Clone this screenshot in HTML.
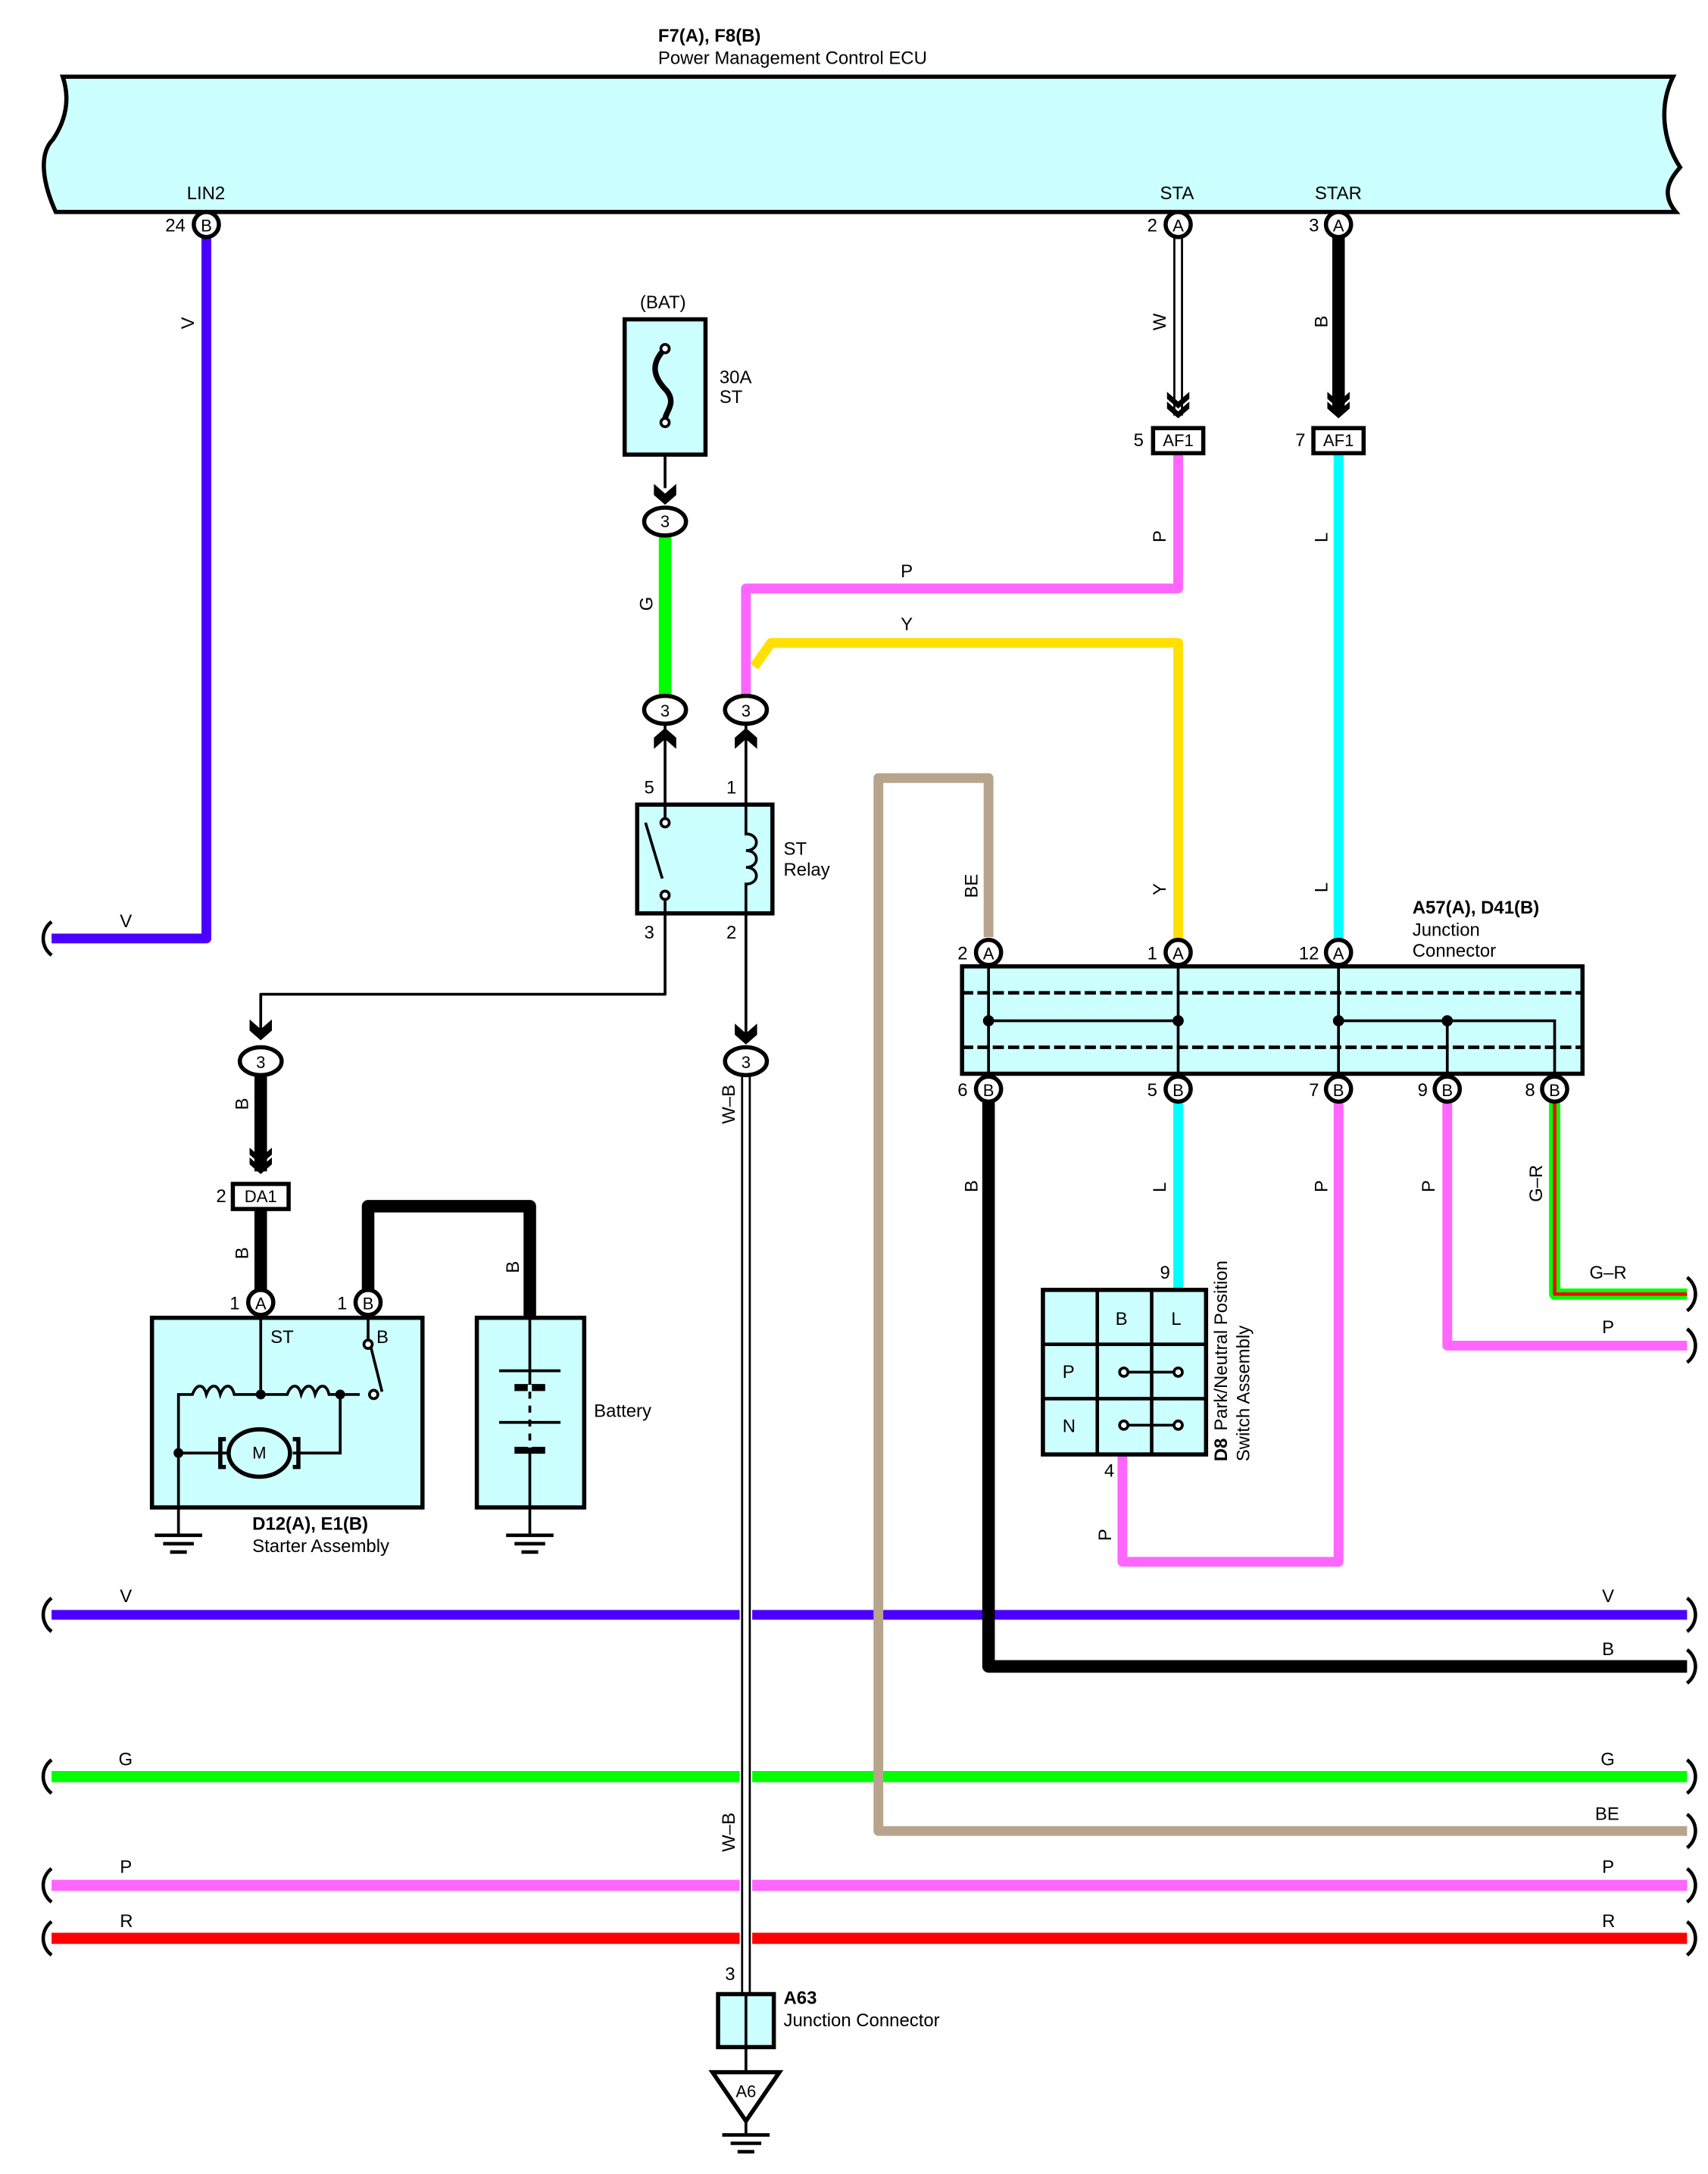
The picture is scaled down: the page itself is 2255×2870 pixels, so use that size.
<!DOCTYPE html>
<html><head><meta charset="utf-8"><style>html,body{margin:0;padding:0;background:#fff}svg{display:block}</style></head><body>
<svg width="2255" height="2870" viewBox="0 0 1225 1559" preserveAspectRatio="none" xmlns="http://www.w3.org/2000/svg" font-family="Liberation Sans, Arial, sans-serif" font-size="13">
<defs>
<g id="brk"><path d="M0,-12 C-8,-6 -8,6 0,12" fill="none" stroke="#000" stroke-width="2.5"/></g>
<g id="chev"><path d="M-8,-12 L0,-5 L8,-12 L8,-7 L0,0 L-8,-7Z M-8,-5 L0,2 L8,-5 L8,0 L0,7 L-8,0Z" fill="#000"/></g>
<g id="gnd"><path d="M-17,0 H17 M-11,6 H11 M-6,12 H6" stroke="#000" stroke-width="2.5"/></g>
</defs>
<!-- ECU -->
<path d="M45,55 H1200 C1190,75 1192,100 1205,120 C1196,130 1192,140 1202,152 H40 C30,130 28,110 38,100 C48,85 50,70 45,55Z" fill="#ccffff" stroke="#000" stroke-width="3"/>
<text x="472" y="30" font-weight="bold">F7(A), F8(B)</text>
<text x="472" y="46">Power Management Control ECU</text>
<text x="134" y="143">LIN2</text><text x="832" y="143">STA</text><text x="943" y="143">STAR</text>

<g fill="none" stroke-linejoin="round">
<path d="M148,170 V673 H37" stroke="#4b00ff" stroke-width="7"/>
<path d="M37,1158 H1210" stroke="#4b00ff" stroke-width="7"/>
<path d="M709,790 V1195 H1210" stroke="#000" stroke-width="9"/>
<path d="M37,1274 H1210" stroke="#00ff00" stroke-width="8"/>
<path d="M709,672 V558 H630 V1313 H1210" stroke="#b8a48c" stroke-width="7"/>
<path d="M37,1352 H1210" stroke="#ff66ff" stroke-width="8"/>
<path d="M37,1390 H1210" stroke="#ff0000" stroke-width="8"/>
<path d="M845,325 V422 H535 V500" stroke="#ff66ff" stroke-width="7"/>
<path d="M541,478 L553,461 H845 V675" stroke="#ffe000" stroke-width="7"/>
<path d="M960,325 V675" stroke="#00ffff" stroke-width="7"/>
<path d="M960,170 V295" stroke="#000" stroke-width="9"/>
<path d="M845,790 V925" stroke="#00ffff" stroke-width="7"/>
<path d="M960,790 V1120 H805 V1043" stroke="#ff66ff" stroke-width="7"/>
<path d="M1038,790 V965 H1210" stroke="#ff66ff" stroke-width="7"/>
<path d="M1115,790 V928 H1210" stroke="#00ff00" stroke-width="8"/>
<path d="M1115,790 V928 H1210" stroke="#ff0000" stroke-width="2.5"/>
<path d="M477,384 V500" stroke="#00ff00" stroke-width="9"/>
<path d="M187,771 V840 M187,867 V925" stroke="#000" stroke-width="9"/>
<path d="M264,943 V865 H380 V945" stroke="#000" stroke-width="9"/>
<path d="M845,170 V298" stroke="#000" stroke-width="7"/><path d="M845,170 V298" stroke="#fff" stroke-width="4"/>
<path d="M535,770 V1430" stroke="#fff" stroke-width="9"/>
<path d="M535,770 V1430" stroke="#000" stroke-width="7"/><path d="M535,770 V1430" stroke="#fff" stroke-width="4"/>
<path d="M477,326 V350 M477,520 V577 M535,520 V577 M477,655 V713 H187 V742 M535,655 V745" stroke="#000" stroke-width="2"/>
</g>
<g>
<use href="#brk" x="37" y="673"/><use href="#brk" x="37" y="1158"/><use href="#brk" x="37" y="1274"/><use href="#brk" x="37" y="1352"/><use href="#brk" x="37" y="1390"/>
</g>
<g fill="none" stroke="#000" stroke-width="2.5">
<path d="M1210,1146 C1218,1152 1218,1164 1210,1170"/><path d="M1210,1183 C1218,1189 1218,1201 1210,1207"/>
<path d="M1210,1262 C1218,1268 1218,1280 1210,1286"/><path d="M1210,1301 C1218,1307 1218,1319 1210,1325"/>
<path d="M1210,1340 C1218,1346 1218,1358 1210,1364"/><path d="M1210,1378 C1218,1384 1218,1396 1210,1402"/>
<path d="M1210,916 C1218,922 1218,934 1210,940"/><path d="M1210,953 C1218,959 1218,971 1210,977"/>
</g>
<use href="#chev" x="845" y="293"/><use href="#chev" x="960" y="293"/><use href="#chev" x="187" y="835"/>
<path d="M469,347 L477,354 L485,347 L485,355 L477,362 L469,355Z" fill="#000"/>
<path d="M187,738 l-8,-7 v8 l8,7 l8,-7 v-8z" fill="#000"/>
<path d="M535,741 l-8,-7 v8 l8,7 l8,-7 v-8z" fill="#000"/>
<path d="M477,522 l-8,7 v8 l8,-7 l8,7 v-8z" fill="#000"/>
<path d="M535,522 l-8,7 v8 l8,-7 l8,7 v-8z" fill="#000"/>
<g fill="#fff" stroke="#000" stroke-width="3">
<ellipse cx="477" cy="374" rx="15" ry="10"/><ellipse cx="477" cy="509" rx="15" ry="10"/><ellipse cx="535" cy="509" rx="15" ry="10"/>
<ellipse cx="187" cy="761" rx="15" ry="10"/><ellipse cx="535" cy="761" rx="15" ry="10"/>
</g>
<g font-size="12" text-anchor="middle"><text x="477" y="378">3</text><text x="477" y="514">3</text><text x="535" y="514">3</text><text x="187" y="766">3</text><text x="535" y="766">3</text></g>
<g fill="#fff" stroke="#000" stroke-width="3"><rect x="827" y="307" width="36" height="18"/><rect x="942" y="307" width="36" height="18"/><rect x="167" y="849" width="40" height="18"/></g>
<g font-size="12" text-anchor="middle"><text x="845" y="320">AF1</text><text x="960" y="320">AF1</text><text x="187" y="862">DA1</text></g>
<text x="813" y="320">5</text><text x="929" y="320">7</text><text x="155" y="862">2</text>
<rect x="448" y="229" width="58" height="97" fill="#ccffff" stroke="#000" stroke-width="3"/>
<path d="M477,250 C465,262 470,272 478,280 C486,290 476,296 477,302" fill="none" stroke="#000" stroke-width="4"/>
<circle cx="477" cy="250" r="3" fill="#fff" stroke="#000" stroke-width="2"/><circle cx="477" cy="303" r="3" fill="#fff" stroke="#000" stroke-width="2"/>
<text x="459" y="221">(BAT)</text><text x="516" y="275">30A</text><text x="516" y="289">ST</text>
<rect x="457" y="577" width="97" height="78" fill="#ccffff" stroke="#000" stroke-width="3"/>
<path d="M477,577 V588 M477,646 V655 M463,590 L475,630 M535,577 V598 C545,598 545,610 535,610 C545,610 545,622 535,622 C545,622 545,634 535,634 V655" fill="none" stroke="#000" stroke-width="2"/>
<circle cx="477" cy="590" r="3" fill="#fff" stroke="#000" stroke-width="2"/><circle cx="477" cy="642" r="3" fill="#fff" stroke="#000" stroke-width="2"/>
<text x="462" y="569">5</text><text x="521" y="569">1</text><text x="462" y="673">3</text><text x="521" y="673">2</text>
<text x="562" y="613">ST</text><text x="562" y="628">Relay</text>
<rect x="109" y="945" width="194" height="136" fill="#ccffff" stroke="#000" stroke-width="3"/>
<g fill="none" stroke="#000" stroke-width="2">
<path d="M187,943 V1000 M128,1100 V1000 H138 c3,-8 8,-8 10,0 c3,-8 8,-8 10,0 c3,-8 8,-8 10,0 H206 c3,-8 8,-8 10,0 c3,-8 8,-8 10,0 c3,-8 8,-8 10,0 H258 M244,1000 V1042 H210 M128,1042 H163 M264,943 V962 M266,966 L274,998"/>
<ellipse cx="186" cy="1042" rx="22" ry="17" stroke-width="3"/>
<path d="M162,1032 h-4 v20 h4 M210,1032 h4 v20 h-4" stroke-width="3"/>
</g>
<circle cx="187" cy="1000" r="3.5"/><circle cx="244" cy="1000" r="3.5"/><circle cx="128" cy="1042" r="3.5"/>
<circle cx="264" cy="964" r="3" fill="#fff" stroke="#000" stroke-width="2"/><circle cx="268" cy="1000" r="3" fill="#fff" stroke="#000" stroke-width="2"/>
<text x="186" y="1046" text-anchor="middle" font-size="12">M</text>
<text x="194" y="963">ST</text><text x="270" y="963">B</text>
<text x="181" y="1097" font-weight="bold">D12(A), E1(B)</text><text x="181" y="1113">Starter Assembly</text>
<use href="#gnd" x="128" y="1101"/>
<rect x="342" y="945" width="77" height="136" fill="#ccffff" stroke="#000" stroke-width="3"/>
<path d="M380,945 V1101 M358,983 H402 M358,1020 H402" stroke="#000" stroke-width="2"/>
<path d="M369,995 H391 M369,1040 H391" stroke="#000" stroke-width="5"/>
<path d="M380,993 V1038" stroke="#ccffff" stroke-width="3" stroke-dasharray="5,5"/>
<text x="426" y="1016">Battery</text>
<use href="#gnd" x="380" y="1101"/>
<rect x="690" y="693" width="445" height="77" fill="#ccffff" stroke="#000" stroke-width="3"/>
<path d="M690,712 H1135 M690,751 H1135" stroke="#000" stroke-width="2.5" stroke-dasharray="8,3"/>
<path d="M709,693 V770 M845,693 V770 M960,693 V770 M1038,732 V770 M709,732 H845 M960,732 H1115 V770" fill="none" stroke="#000" stroke-width="2"/>
<circle cx="709" cy="732" r="4"/><circle cx="845" cy="732" r="4"/><circle cx="960" cy="732" r="4"/><circle cx="1038" cy="732" r="4"/>
<text x="1013" y="655" font-weight="bold">A57(A), D41(B)</text><text x="1013" y="671">Junction</text><text x="1013" y="686">Connector</text>
<g fill="#ccffff" stroke="#000" stroke-width="3"><rect x="748" y="925" width="117" height="118"/></g>
<path d="M787,925 V1043 M826,925 V1043 M748,964 H865 M748,1003 H865" stroke="#000" stroke-width="2.5"/>
<path d="M806,984 H845 M806,1022 H845" stroke="#000" stroke-width="2"/>
<g fill="#fff" stroke="#000" stroke-width="2"><circle cx="806" cy="984" r="3"/><circle cx="845" cy="984" r="3"/><circle cx="806" cy="1022" r="3"/><circle cx="845" cy="1022" r="3"/></g>
<text x="800" y="950">B</text><text x="840" y="950">L</text><text x="762" y="988">P</text><text x="762" y="1027">N</text>
<text x="832" y="917">9</text><text x="792" y="1059">4</text>
<g transform="translate(880,1048) rotate(-90)"><text font-weight="bold" x="0" y="0">D8</text><text x="22" y="0">Park/Neutral Position</text><text x="0" y="16">Switch Assembly</text></g>
<rect x="515" y="1430" width="40" height="38" fill="#ccffff" stroke="#000" stroke-width="3"/>
<path d="M535,1430 V1486" stroke="#000" stroke-width="2"/>
<text x="520" y="1420">3</text>
<text x="562" y="1437" font-weight="bold">A63</text><text x="562" y="1453">Junction Connector</text>
<path d="M511,1486 H559 L535,1521Z" fill="#fff" stroke="#000" stroke-width="3"/>
<text x="535" y="1504" text-anchor="middle" font-size="12">A6</text>
<path d="M535,1521 V1530" stroke="#000" stroke-width="2"/>
<use href="#gnd" x="535" y="1531"/>
<g fill="#fff" stroke="#000" stroke-width="3">
<circle cx="148" cy="161" r="9"/><circle cx="845" cy="161" r="9"/><circle cx="960" cy="161" r="9"/>
<circle cx="709" cy="683" r="9"/><circle cx="845" cy="683" r="9"/><circle cx="960" cy="683" r="9"/>
<circle cx="709" cy="781" r="9"/><circle cx="845" cy="781" r="9"/><circle cx="960" cy="781" r="9"/><circle cx="1038" cy="781" r="9"/><circle cx="1115" cy="781" r="9"/>
<circle cx="187" cy="934" r="9"/><circle cx="264" cy="934" r="9"/>
</g>
<g font-size="12" text-anchor="middle">
<text x="148" y="166">B</text><text x="845" y="166">A</text><text x="960" y="166">A</text>
<text x="709" y="688">A</text><text x="845" y="688">A</text><text x="960" y="688">A</text>
<text x="709" y="786">B</text><text x="845" y="786">B</text><text x="960" y="786">B</text><text x="1038" y="786">B</text><text x="1115" y="786">B</text>
<text x="187" y="939">A</text><text x="264" y="939">B</text>
</g>
<g text-anchor="end">
<text x="133" y="166">24</text><text x="830" y="166">2</text><text x="946" y="166">3</text>
<text x="694" y="688">2</text><text x="830" y="688">1</text><text x="946" y="688">12</text>
<text x="694" y="786">6</text><text x="830" y="786">5</text><text x="946" y="786">7</text><text x="1024" y="786">9</text><text x="1101" y="786">8</text>
<text x="172" y="939">1</text><text x="249" y="939">1</text>
</g>
<g>
<text transform="translate(139,236) rotate(-90)">V</text>
<text transform="translate(836,237) rotate(-90)">W</text>
<text transform="translate(952,235) rotate(-90)">B</text>
<text transform="translate(836,389) rotate(-90)">P</text>
<text transform="translate(952,389) rotate(-90)">L</text>
<text transform="translate(468,438) rotate(-90)">G</text>
<text transform="translate(836,642) rotate(-90)">Y</text>
<text transform="translate(952,640) rotate(-90)">L</text>
<text transform="translate(701,644) rotate(-90)">BE</text>
<text transform="translate(178,796) rotate(-90)">B</text>
<text transform="translate(178,903) rotate(-90)">B</text>
<text transform="translate(372,913) rotate(-90)">B</text>
<text transform="translate(527,806) rotate(-90)">W–B</text>
<text transform="translate(527,1328) rotate(-90)">W–B</text>
<text transform="translate(701,855) rotate(-90)">B</text>
<text transform="translate(836,855) rotate(-90)">L</text>
<text transform="translate(952,855) rotate(-90)">P</text>
<text transform="translate(1029,855) rotate(-90)">P</text>
<text transform="translate(1106,862) rotate(-90)">G–R</text>
<text transform="translate(797,1105) rotate(-90)">P</text>
</g>
<text x="86" y="665">V</text><text x="646" y="414">P</text><text x="646" y="452">Y</text>
<text x="86" y="1149">V</text><text x="1149" y="1149">V</text>
<text x="1149" y="1187">B</text>
<text x="85" y="1266">G</text><text x="1148" y="1266">G</text>
<text x="1144" y="1305">BE</text>
<text x="86" y="1343">P</text><text x="1149" y="1343">P</text>
<text x="86" y="1382">R</text><text x="1149" y="1382">R</text>
<text x="1140" y="917">G–R</text><text x="1149" y="956">P</text>
</svg>
</body></html>
